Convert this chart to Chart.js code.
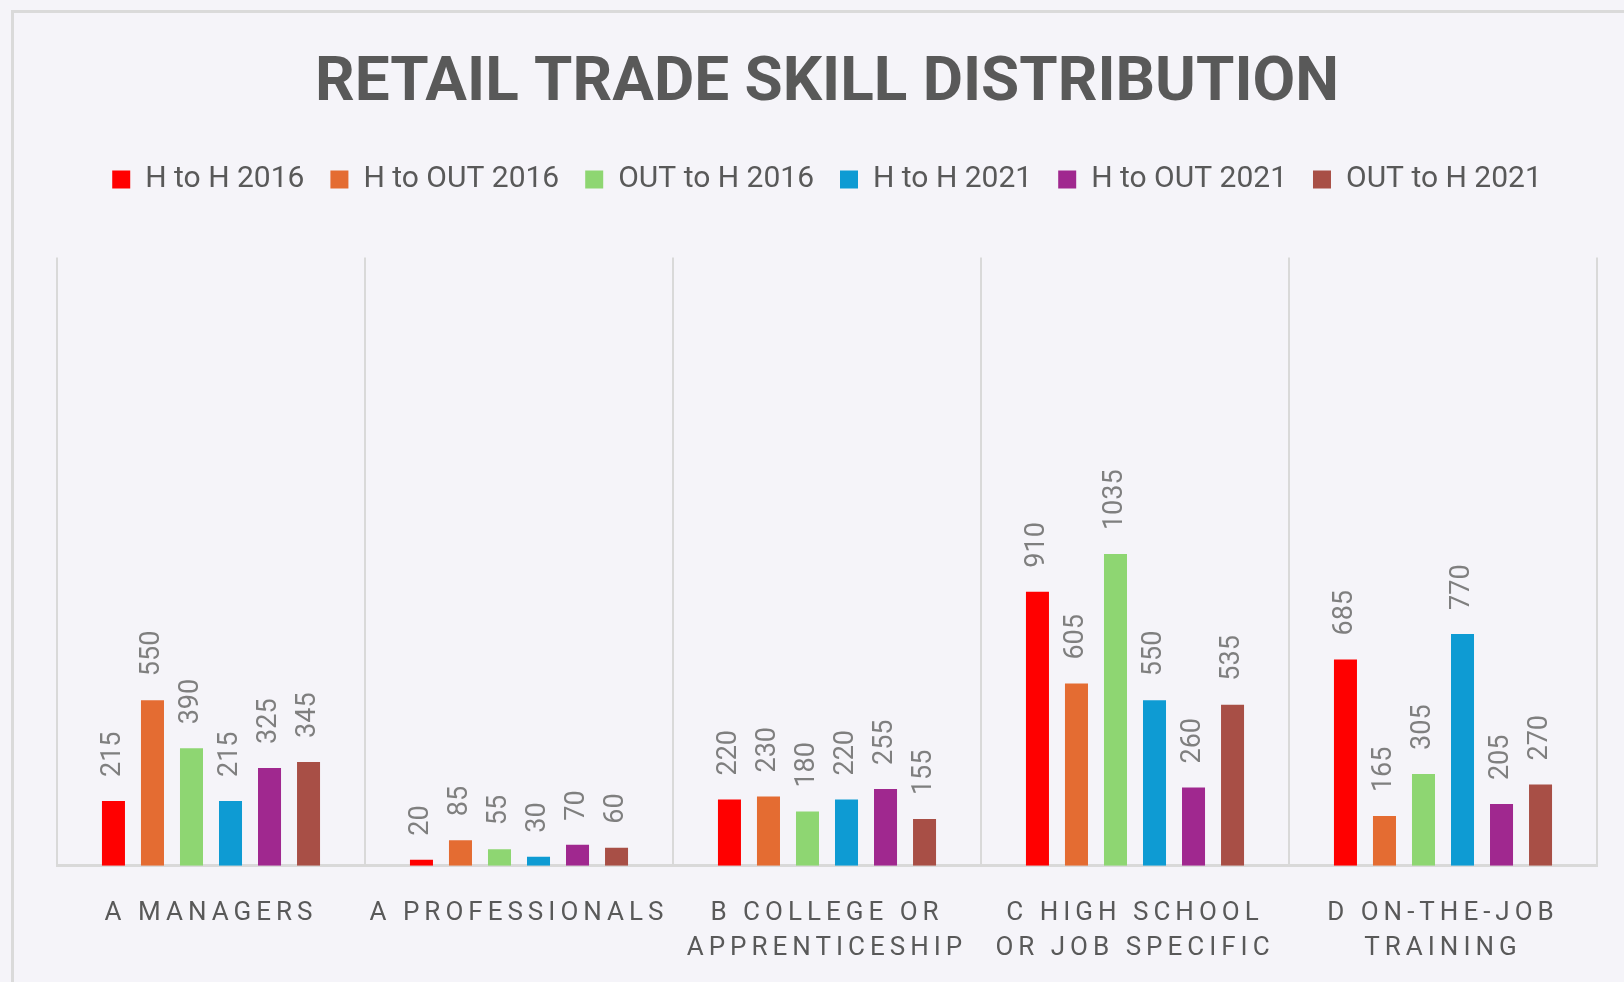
<!DOCTYPE html>
<html>
<head>
<meta charset="utf-8">
<script src="https://cdn.jsdelivr.net/npm/chart.js@4/dist/chart.umd.min.js"></script>
<style>
    html, body { margin: 0; padding: 0; overflow: hidden; background: #f5f4f9; }
    .frame { position: absolute; left: 11px; top: 10px; width: 1640px; height: 990px; border-top: 3px solid #dadada; border-left: 3px solid #dadada; background: #f5f4f9; }
    .wrap { position: absolute; left: 0; top: 0; width: 1624px; height: 982px; }
</style>
</head>
<body>
<div class="frame"></div>
<div class="wrap"><canvas id="Chart1"></canvas></div>
<script>
// =========== data
const categories = [
    ["A MANAGERS"],
    ["A PROFESSIONALS"],
    ["B COLLEGE OR", "APPRENTICESHIP"],
    ["C HIGH SCHOOL", "OR JOB SPECIFIC"],
    ["D ON-THE-JOB", "TRAINING"],
];
const seriesNames = ["H to H 2016", "H to OUT 2016", "OUT to H 2016", "H to H 2021", "H to OUT 2021", "OUT to H 2021"];
const hToH2016 = [215, 20, 220, 910, 685];
const hToOut2016 = [550, 85, 230, 605, 165];
const outToH2016 = [390, 55, 180, 1035, 305];
const hToH2021 = [215, 30, 220, 550, 770];
const hToOut2021 = [325, 70, 255, 260, 205];
const outToH2021 = [345, 60, 155, 535, 270];
const seriesColors = ["#ff0000", "#e46c32", "#8ed672", "#0e9bd3", "#a0288f", "#a84f46"];

const allSeries = [hToH2016, hToOut2016, outToH2016, hToH2021, hToOut2021, outToH2021];

// value labels, rotated, above each bar
const barLabels = {
    id: "barLabels",
    afterDatasetsDraw(chart) {
        const ctx = chart.ctx;
        ctx.save();
        ctx.letterSpacing = "0px";
        ctx.font = "27px Roboto";
        ctx.fillStyle = "#7f7f7f";
        ctx.textAlign = "left";
        ctx.textBaseline = "middle";
        chart.data.datasets.forEach((ds, i) => {
            chart.getDatasetMeta(i).data.forEach((bar, j) => {
                ctx.save();
                ctx.translate(bar.x, bar.y - 24);
                ctx.rotate(-Math.PI / 2);
                ctx.fillText(ds.data[j], 0, 0);
                ctx.restore();
            });
        });
        ctx.restore();
        // tick labels are drawn after this (ticks z: 1), spaced out
        ctx.letterSpacing = "5px";
    },
    afterDraw(chart) {
        chart.ctx.letterSpacing = "0px";
    },
};

const ctx1 = document.getElementById("Chart1").getContext("2d");
const chart1 = new Chart(ctx1, {
    type: "bar",
    data: {
        labels: categories,
        datasets: allSeries.map((d, i) => ({
            label: seriesNames[i],
            data: d,
            backgroundColor: seriesColors[i],
            borderWidth: 0,
            categoryPercentage: 0.76,
            barPercentage: 0.59,
        })),
    },
    plugins: [barLabels],
    options: {
        responsive: true,
        maintainAspectRatio: false,
        animation: false,
        layout: {
            padding: { top: 0, left: 57, right: 27, bottom: -14 },
        },
        plugins: {
            title: {
                display: true,
                text: "RETAIL TRADE SKILL DISTRIBUTION",
                color: "#595959",
                font: { family: "Roboto", size: 62, weight: "bold", lineHeight: 1.2 },
                padding: { top: 47, bottom: 17 },
            },
            legend: {
                display: true,
                position: "top",
                labels: {
                    color: "#595959",
                    font: { family: "Roboto", size: 30 },
                    boxWidth: 18,
                    boxHeight: 18,
                    padding: 26,
                },
            },
            subtitle: {
                // empty spacer between legend and plot
                display: true,
                text: "",
                weight: 500,
                font: { size: 10, lineHeight: 1 },
                padding: { top: 0, bottom: 43 },
            },
            tooltip: { enabled: false },
        },
        scales: {
            y: {
                display: false,
                min: 0,
                max: 2020,
            },
            x: {
                grid: {
                    display: true,
                    color: "#d9d9d9",
                    lineWidth: 2,
                    drawTicks: false,
                },
                border: {
                    color: "#d9d9d9",
                    width: 3,
                },
                ticks: {
                    z: 1,
                    color: "#595959",
                    font: { family: "Roboto", size: 26, lineHeight: 1.35 },
                    padding: 30,
                    autoSkip: false,
                    maxRotation: 0,
                    minRotation: 0,
                },
            },
        },
    },
});
</script>
</body>
</html>
